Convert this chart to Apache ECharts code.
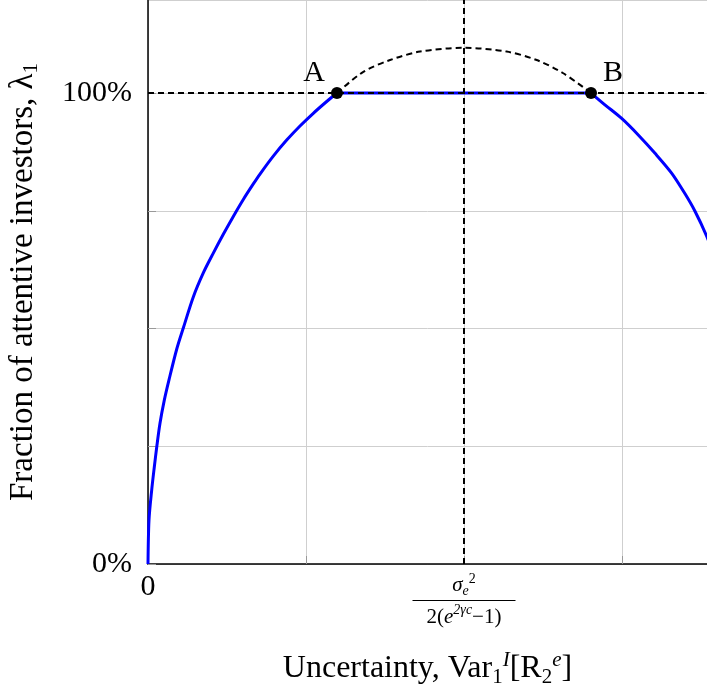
<!DOCTYPE html>
<html>
<head>
<meta charset="utf-8">
<script src="https://cdn.jsdelivr.net/npm/echarts@6/dist/echarts.min.js"></script>
<style>
  html, body { margin: 0; padding: 0; background: #fff; }
  #chart { width: 707px; height: 687px; }
</style>
</head>
<body>
<div id="chart"></div>
<script>
// attention curve (x in grid units, y in %)
var leftX  = [0, 0.0063, 0.0234, 0.0399, 0.0551, 0.0759, 0.1032, 0.1329, 0.1816, 0.2234, 0.2867, 0.35, 0.4133,
              0.4766, 0.5399, 0.6032, 0.6665, 0.7089, 0.793, 0.8778, 0.962, 1.0462, 1.131, 1.196];
var leftY  = [0, 9.3, 15.7, 20.6, 24.8, 29.9, 34.8, 39.1, 45.6, 50.1, 56.7, 61.8, 66.0,
              70.0, 73.8, 77.4, 80.7, 82.8, 86.6, 90.0, 93.0, 95.7, 98.2, 100];
var rightX = [2.804, 2.892, 2.998, 3.103, 3.209, 3.314, 3.399, 3.462, 3.536, 3.6];
var rightY = [100, 97.5, 94.6, 91.1, 87.2, 83.0, 78.6, 74.9, 69.6, 64.0];
// unconstrained part above 100% (dashed)
var dashX = [1.196, 1.363, 1.532, 1.722, 1.996, 2.27, 2.46, 2.628, 2.804];
var dashY = [100, 104.5, 107.0, 108.8, 109.6, 108.8, 107.0, 104.2, 100];
var pointNames = ['A', 'B'];
var pointX = [1.196, 2.804];
var pointY = [100, 100];
var yTickLabels = { 0: '0%', 100: '100%' };

var font = 'Liberation Serif';

var pairs = function (xs, ys) { return xs.map(function (x, k) { return [x, ys[k]]; }); };
var pts = pointX.map(function (x, k) { return { name: pointNames[k], value: [x, pointY[k]] }; });
var blueLine = { color: '#0000ff', width: 3, join: 'round' };

var chart = echarts.init(document.getElementById('chart'));
chart.setOption({
  animation: false,
  grid: { left: 148, right: 0, top: 0, bottom: 123, containLabel: false, outerBoundsMode: 'none' },
  xAxis: {
    type: 'value', min: 0, max: 3.538, interval: 1,
    name: '{t|Uncertainty, Var}{sub|1}{sup|I}{t|[R}{sub|2}{sup|e}{t|]}',
    nameLocation: 'middle', nameGap: 86,
    nameTextStyle: {
      rich: {
        t: { fontFamily: font, fontSize: 32, color: '#000', lineHeight: 38 },
        sub: { fontFamily: font, fontSize: 21, color: '#000', verticalAlign: 'bottom', lineHeight: 33 },
        sup: { fontFamily: font, fontSize: 21, color: '#000', verticalAlign: 'top', lineHeight: 38, fontStyle: 'italic' }
      }
    },
    axisLine: { lineStyle: { color: '#000', width: 1.5 } },
    axisTick: { show: true, inside: true, length: 8, lineStyle: { color: '#999' } },
    splitLine: { show: true, lineStyle: { color: '#cfcfcf', width: 1 } },
    axisLabel: {
      margin: 8,
      formatter: function (v) {
        if (v === 0) return '{z|0}';
        if (v === 2) return '{n|σ}{ns|e}{nt|2}\n{bar|}\n{d|2(}{di|e}{dsup|2γc}{d|−1)}';
        return '';
      },
      rich: {
        z: { fontFamily: font, fontSize: 30, color: '#000' },
        n: { fontFamily: font, fontSize: 21, fontStyle: 'italic', color: '#000', lineHeight: 24 },
        ns: { fontFamily: font, fontSize: 14, fontStyle: 'italic', color: '#000', verticalAlign: 'bottom', lineHeight: 19 },
        nt: { fontFamily: font, fontSize: 14, color: '#000', verticalAlign: 'top', lineHeight: 26 },
        bar: { width: 103, height: 1, backgroundColor: '#000', lineHeight: 5 },
        d: { fontFamily: font, fontSize: 21, color: '#000', lineHeight: 26 },
        di: { fontFamily: font, fontSize: 21, fontStyle: 'italic', color: '#000', lineHeight: 26 },
        dsup: { fontFamily: font, fontSize: 14, fontStyle: 'italic', color: '#000', verticalAlign: 'top', lineHeight: 28 }
      }
    }
  },
  yAxis: {
    type: 'value', min: 0, max: 119.75, interval: 25,
    name: '{t|Fraction of attentive investors, λ}{sub|1}',
    nameLocation: 'middle', nameGap: 106, nameRotate: 90,
    nameTextStyle: {
      rich: {
        t: { fontFamily: font, fontSize: 33, color: '#000', lineHeight: 38 },
        sub: { fontFamily: font, fontSize: 21, color: '#000', verticalAlign: 'bottom', lineHeight: 32 }
      }
    },
    axisLine: { show: true, lineStyle: { color: '#000', width: 1.5 } },
    axisTick: { show: true, inside: true, length: 8, lineStyle: { color: '#999' } },
    splitLine: { show: true, lineStyle: { color: '#cfcfcf', width: 1 } },
    axisLabel: {
      margin: 16, fontFamily: font, fontSize: 30, color: '#000',
      showMaxLabel: false,
      formatter: function (v) { return yTickLabels[v] || ''; }
    }
  },
  series: [
    {
      type: 'line', data: pairs(dashX, dashY), smooth: 0.3, showSymbol: false, z: 2,
      lineStyle: { color: '#000', width: 2, type: [6, 4] },
      markLine: {
        silent: true, symbol: 'none', label: { show: false },
        lineStyle: { color: '#000', width: 2, type: [6, 4] },
        data: [{ yAxis: 100 }, { xAxis: 2 }]
      }
    },
    { type: 'line', data: pairs(leftX, leftY), smooth: 0.3, showSymbol: false, z: 3, lineStyle: blueLine },
    { type: 'line', data: pairs(pointX, pointY), showSymbol: false, z: 3, lineStyle: blueLine },
    { type: 'line', data: pairs(rightX, rightY), smooth: 0.3, showSymbol: false, z: 3, lineStyle: blueLine },
    {
      type: 'scatter', data: pts, symbolSize: 12, z: 4,
      itemStyle: { color: '#000', opacity: 1 },
      label: {
        show: true, fontFamily: font, fontSize: 30, color: '#000',
        formatter: function (p) { return p.name; },
        position: 'top', distance: 5
      },
      labelLayout: function (p) {
        var left = p.dataIndex === 0;
        return { dx: left ? -23 : 22, dy: 6 };
      }
    }
  ]
});
</script>
</body>
</html>
